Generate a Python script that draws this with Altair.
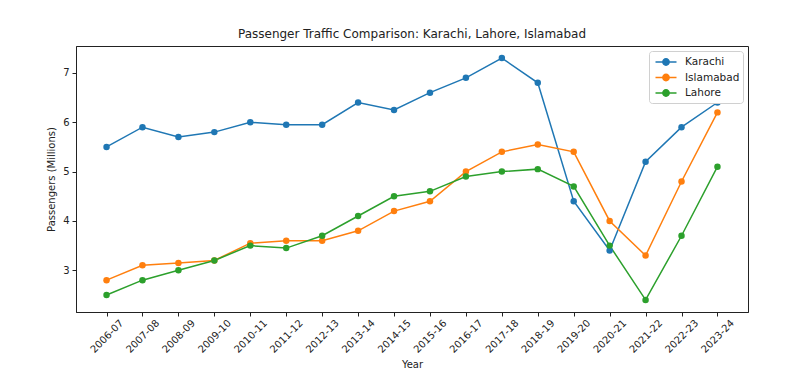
import altair as alt
import pandas as pd

years = ["2006-07", "2007-08", "2008-09", "2009-10", "2010-11", "2011-12",
         "2012-13", "2013-14", "2014-15", "2015-16", "2016-17", "2017-18",
         "2018-19", "2019-20", "2020-21", "2021-22", "2022-23", "2023-24"]
karachi = [5.5, 5.9, 5.7, 5.8, 6.0, 5.95, 5.95, 6.4, 6.25, 6.6, 6.9, 7.3,
           6.8, 4.4, 3.4, 5.2, 5.9, 6.4]
islamabad = [2.8, 3.1, 3.15, 3.2, 3.55, 3.6, 3.6, 3.8, 4.2, 4.4, 5.0, 5.4,
             5.55, 5.4, 4.0, 3.3, 4.8, 6.2]
lahore = [2.5, 2.8, 3.0, 3.2, 3.5, 3.45, 3.7, 4.1, 4.5, 4.6, 4.9, 5.0,
          5.05, 4.7, 3.5, 2.4, 3.7, 5.1]
cities = ["Karachi", "Islamabad", "Lahore"]
colors = ["#1f77b4", "#ff7f0e", "#2ca02c"]

rows = []
for city, vals in zip(cities, [karachi, islamabad, lahore]):
    for y, v in zip(years, vals):
        rows.append({"Year": y, "City": city, "Passengers": v})
df = pd.DataFrame(rows)

font = "DejaVu Sans"
color = alt.Color(
    "City:N",
    sort=cities,
    scale=alt.Scale(domain=cities, range=colors),
    legend=alt.Legend(
        title=None,
        orient="top-right",
        offset=5,
        fillColor="white",
        strokeColor="#d0d0d0",
        padding=3,
        cornerRadius=3,
        symbolType="M-1.5,0H1.5M0.45,0A0.45,0.45,0,1,1,-0.45,0A0.45,0.45,0,1,1,0.45,0",
        symbolSize=196,
        symbolStrokeWidth=1.5,
        symbolOffset=6,
        labelFont=font,
        labelFontSize=10.5,
        labelColor="#222",
        rowPadding=0.5,
        labelOffset=11,
    ),
)

x = alt.X(
    "Year:O",
    sort=years,
    scale=alt.Scale(type="point", padding=0.85),
    axis=alt.Axis(
        title="Year",
        labelAngle=-45,
        labelAlign="center",
        labelBaseline="middle",
        labelPadding=20,
        tickSize=4,
        titlePadding=5,
    ),
)
y = alt.Y(
    "Passengers:Q",
    scale=alt.Scale(domain=[2.155, 7.545], nice=False, zero=False),
    axis=alt.Axis(
        title="Passengers (Millions)",
        values=[3, 4, 5, 6, 7],
        tickSize=4,
        labelPadding=3,
        titlePadding=6,
    ),
)

base = alt.Chart(df)
lines = base.mark_line(strokeWidth=1.5).encode(x=x, y=y, color=color)
points = base.mark_circle(size=42, opacity=1).encode(
    x=x, y=y,
    color=alt.Color("City:N", sort=cities, scale=alt.Scale(domain=cities, range=colors), legend=None),
)

chart = (
    alt.layer(lines, points)
    .properties(
        width=672,
        height=266,
        title=alt.TitleParams(
            "Passenger Traffic Comparison: Karachi, Lahore, Islamabad",
            font=font,
            fontSize=12,
            fontWeight="normal",
            color="#222",
            offset=5,
        ),
        padding={"left": 38, "top": 20, "right": 5, "bottom": 5},
    )
    .configure_view(stroke="#222", strokeWidth=1)
    .configure_axis(
        grid=False,
        domainColor="#222",
        tickColor="#222",
        labelFont=font,
        labelFontSize=10,
        labelColor="#222",
        titleFont=font,
        titleFontSize=10,
        titleFontWeight="normal",
        titleColor="#222",
    )
)

chart.save("out.html", embed_options={"renderer": "svg", "actions": False})
